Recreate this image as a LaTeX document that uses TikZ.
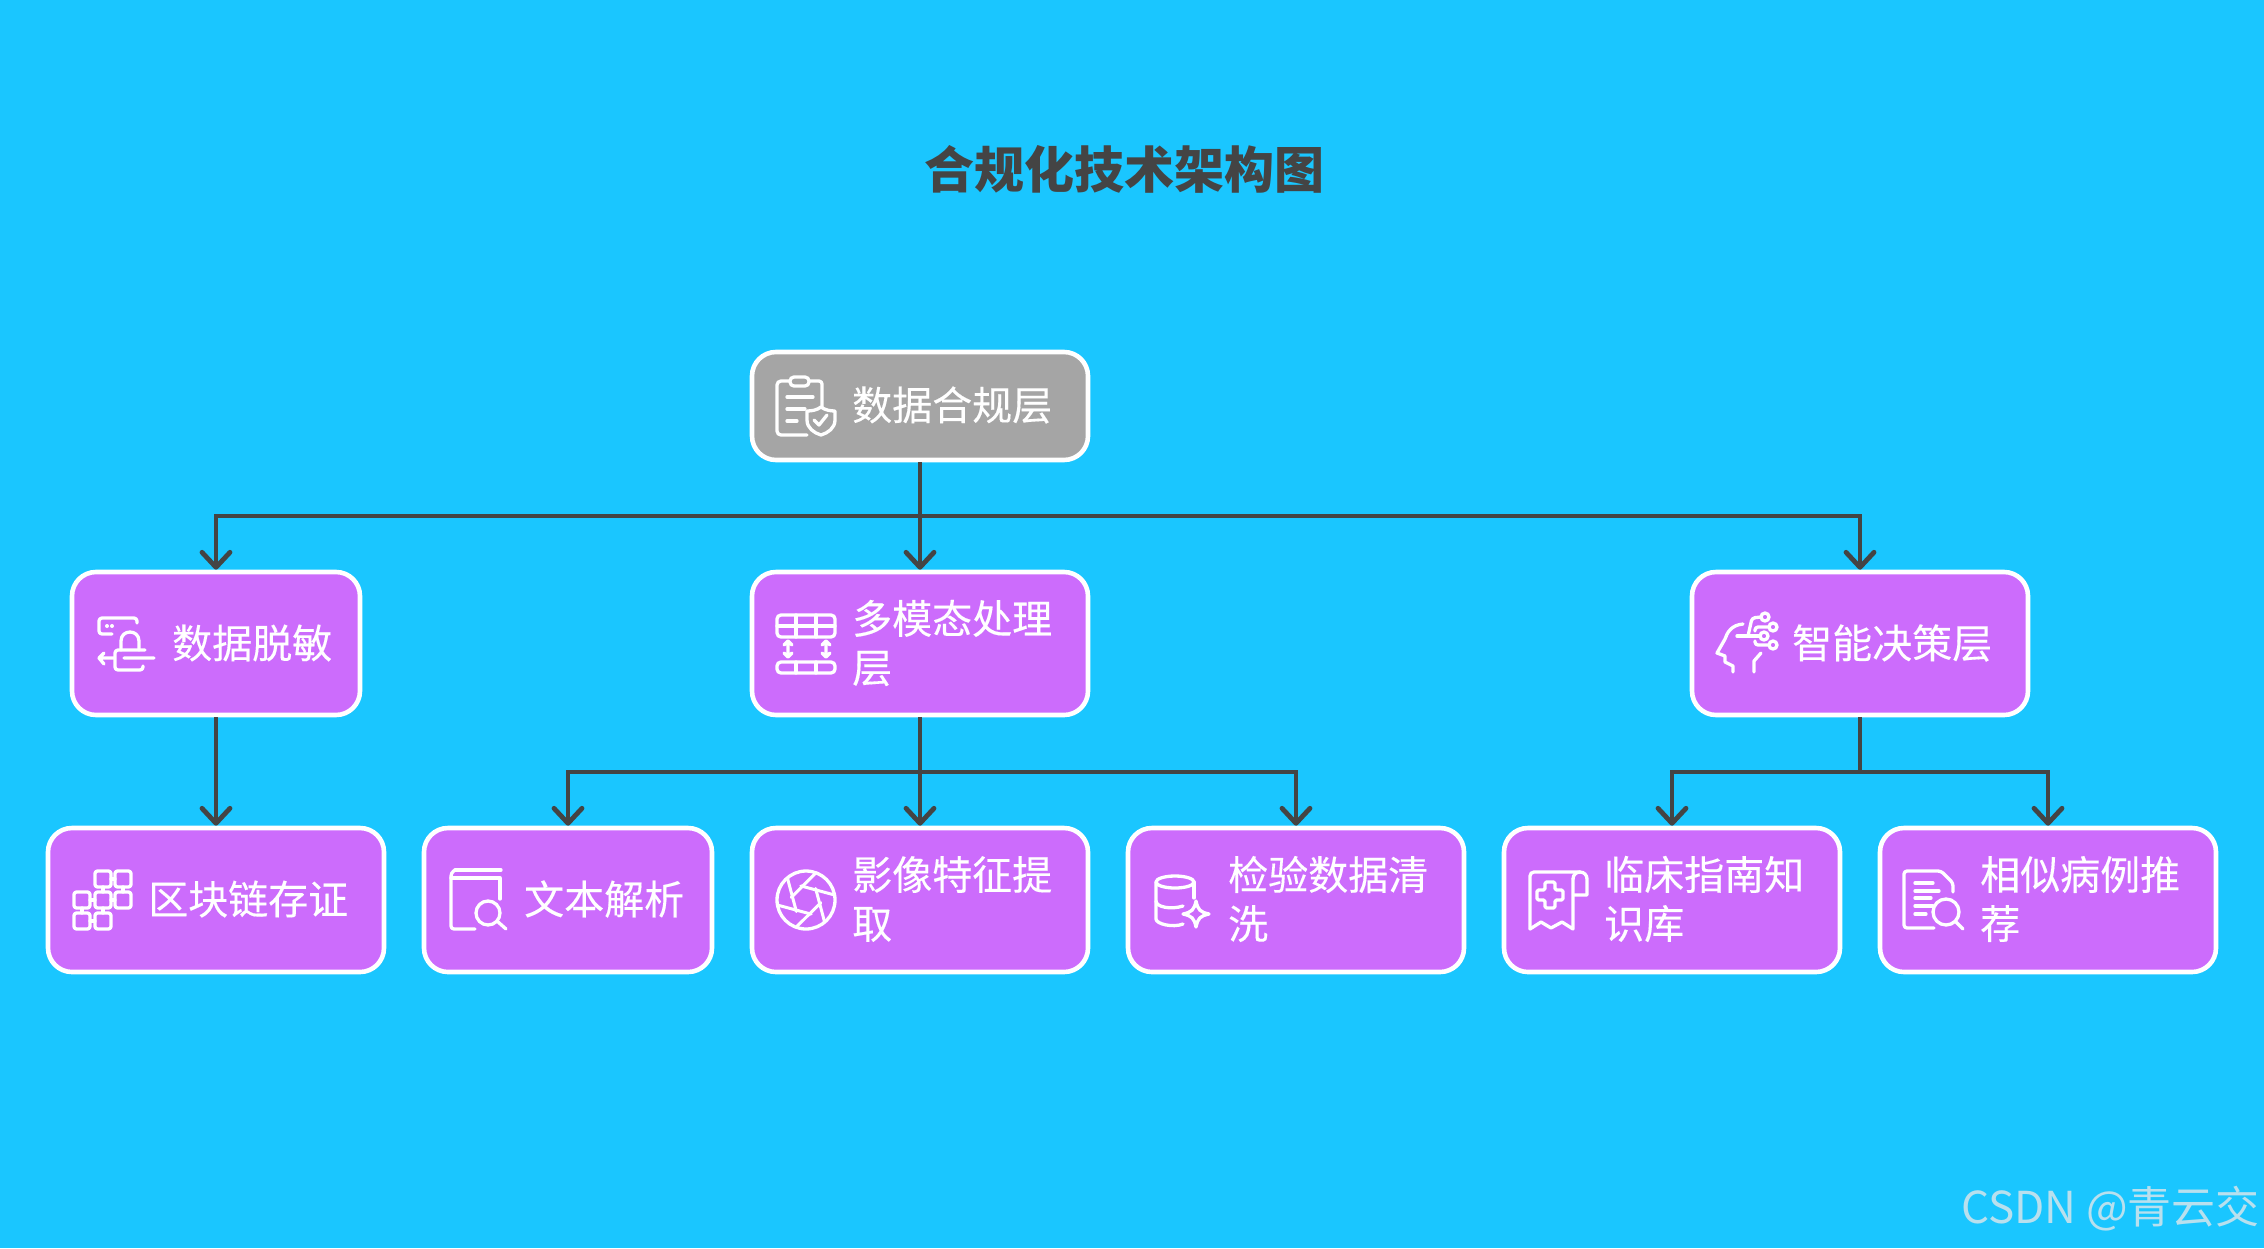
\documentclass[tikz,border=0pt]{standalone}
\usepackage{fontspec}
\setmainfont{Noto Sans CJK SC}
\newfontfamily\lblfont[FakeBold=0.25]{Noto Sans CJK SC}
\usetikzlibrary{arrows.meta}
\definecolor{bgc}{HTML}{1AC6FF}
\definecolor{purp}{HTML}{CC6CFC}
\definecolor{grayb}{HTML}{A5A5A5}
\definecolor{darkc}{HTML}{444444}
\definecolor{wmark}{HTML}{B8E0EE}
\tikzset{
  boxbase/.style={draw=white,line width=4.6pt,rounded corners=24pt,inner sep=0pt},
  purplebox/.style={boxbase,fill=purp},
  graybox/.style={boxbase,fill=grayb},
  lbl/.style={anchor=west,inner sep=0pt,text=white,align=left,font=\lblfont\fontsize{40}{49}\selectfont},
  conn/.style={draw=darkc,line width=4.8pt,-{Straight Barb[length=15pt,width=28pt,round,line width=4.8pt]}},
  icon/.style={draw=white,line width=3.3pt,line cap=round,line join=round},
}
\begin{document}
\begin{tikzpicture}[x=1pt,y=-1pt]
\fill[bgc] (0,0) rectangle (2264,1248);
\useasboundingbox (0,0) rectangle (2264,1248);

\node[inner sep=0pt,text=darkc,font=\fontsize{50}{60}\selectfont\bfseries] (title) at (1124,169) {合规化技术架构图};

% boxes
\node[graybox,minimum width=336pt,minimum height=108pt] (root) at (920,406) {};
\node[purplebox,minimum width=288pt,minimum height=143pt] (mask) at (216,643.5) {};
\node[purplebox,minimum width=336pt,minimum height=143pt] (multi) at (920,643.5) {};
\node[purplebox,minimum width=336pt,minimum height=143pt] (decide) at (1860,643.5) {};
\node[purplebox,minimum width=336pt,minimum height=144pt] (chain) at (216,900) {};
\node[purplebox,minimum width=288pt,minimum height=144pt] (textp) at (568,900) {};
\node[purplebox,minimum width=336pt,minimum height=144pt] (image) at (920,900) {};
\node[purplebox,minimum width=336pt,minimum height=144pt] (lab) at (1296,900) {};
\node[purplebox,minimum width=336pt,minimum height=144pt] (guide) at (1672,900) {};
\node[purplebox,minimum width=336pt,minimum height=144pt] (similar) at (2048,900) {};

% labels
\node[lbl] (lroot) at (852,405) {数据合规层};
\node[lbl] (lmask) at (172,643) {数据脱敏};
\node[lbl] (lmulti) at (852,643) {多模态处理\\层};
\node[lbl] (ldecide) at (1792,643) {智能决策层};
\node[lbl] (lchain) at (148,899) {区块链存证};
\node[lbl] (ltextp) at (524,899) {文本解析};
\node[lbl] (limage) at (852,899) {影像特征提\\取};
\node[lbl] (llab) at (1228,899) {检验数据清\\洗};
\node[lbl] (lguide) at (1604,899) {临床指南知\\识库};
\node[lbl] (lsimilar) at (1980,899) {相似病例推\\荐};

% connectors
\coordinate (bus1) at (920,516);
\coordinate (bus2) at (920,772);
\coordinate (bus3) at (1860,772);
\draw[conn] (root.south) -- (root.south |- bus1) -| (mask.north);
\draw[conn] (root.south) -- (multi.north);
\draw[conn] (root.south) -- (root.south |- bus1) -| (decide.north);
\draw[conn] (mask.south) -- (chain.north);
\draw[conn] (multi.south) -- (multi.south |- bus2) -| (textp.north);
\draw[conn] (multi.south) -- (image.north);
\draw[conn] (multi.south) -- (multi.south |- bus2) -| (lab.north);
\draw[conn] (decide.south) -- (decide.south |- bus3) -| (guide.north);
\draw[conn] (decide.south) -- (decide.south |- bus3) -| (similar.north);

% icon: clipboard + shield
\begin{scope}[shift={(776,376)}]
\draw[icon,rounded corners=4pt] (14,5) -- (1,5) -- (1,59) -- (31,59);
\draw[icon,rounded corners=3pt] (33,5) -- (46,5) -- (46,31);
\draw[icon,rounded corners=4pt] (14,1) rectangle (33,10);
\draw[icon] (11,21) -- (37,21) (11,33) -- (29,33) (11,45) -- (21,45);
\draw[icon] (45,31) .. controls (49,34) and (54,35) .. (59,35) -- (59,44) .. controls (59,52) and (52,57) .. (45,59) .. controls (38,57) and (31,52) .. (31,44) -- (31,35) .. controls (36,35) and (41,34) .. (45,31) -- cycle;
\draw[icon] (38,44) -- (43,49) -- (51,39);
\end{scope}

% icon: lock mask
\begin{scope}[shift={(98,617)}]
\draw[icon,rounded corners=3pt] (39,6) -- (39,1) -- (1,1) -- (1,17) -- (14,17);
\fill[white] (9,9) circle (2pt) (14,9) circle (2pt);
\draw[icon] (23,33) -- (23,24) .. controls (23,12) and (41,12) .. (41,24) -- (41,33);
\draw[icon,rounded corners=3pt] (47,33) -- (17,33) -- (17,53) -- (45,53) -- (45,49);
\draw[icon] (26,41) -- (56,41) (1,41) -- (16,41) (6,36) -- (1,41) -- (6,47);
\end{scope}

% icon: block network
\begin{scope}[shift={(73,870)}]
\foreach \x/\y in {22/1,42/1,1/22,22/22,42/22,1/43,22/43}
  \draw[icon,rounded corners=2.5pt] (\x,\y) rectangle ++(16,16);
\draw[icon] (38,9) -- (42,9) (17,30) -- (22,30) (38,30) -- (42,30) (17,51) -- (22,51)
  (30,17) -- (30,22) (50,17) -- (50,22) (9,38) -- (9,43) (30,38) -- (30,43);
\end{scope}

% icon: table with arrows
\begin{scope}[shift={(776,614)}]
\draw[icon,rounded corners=4pt] (1,1) rectangle (59,23);
\draw[icon] (1,12) -- (59,12) (20,1) -- (20,23) (40,1) -- (40,23);
\draw[icon,rounded corners=4pt] (1,48) rectangle (59,59);
\draw[icon] (20,48) -- (20,59) (40,48) -- (40,59);
\draw[icon] (12,27) -- (12,43) (50,27) -- (50,43)
  (8,31) -- (12,27) -- (16,31) (8,39) -- (12,43) -- (16,39)
  (46,31) -- (50,27) -- (54,31) (46,39) -- (50,43) -- (54,39);
\end{scope}

% icon: aperture
\begin{scope}[shift={(776,870)}]
\draw[icon] (30,30) circle (29pt);
\foreach \a in {0,60,...,300}
  \draw[icon,line width=3pt] ([shift={(30,30)}]\a+10:29pt) -- ([shift={(30,30)}]\a+110:15pt);
\end{scope}

% icon: head with circuit
\begin{scope}[shift={(1716,613)}]
\draw[icon] (27,11) .. controls (15,12) and (11,20) .. (9,26) -- (1,40) -- (9,43) -- (9,49) -- (17,53) -- (17,59);
\draw[icon] (45,40) -- (38,48) -- (38,59);
\draw[icon] (49,4) circle (4pt) (57,14) circle (4pt) (48,23) circle (4pt) (57,32) circle (4pt);
\draw[icon] (21,23) -- (44,23);
\draw[icon,rounded corners=3pt] (32,23) -- (36,5) -- (45,4);
\draw[icon,rounded corners=3pt] (39,18) -- (39,14) -- (53,14);
\draw[icon,rounded corners=3pt] (39,28) -- (39,32) -- (53,32);
\end{scope}

% icon: book + magnifier
\begin{scope}[shift={(450,869)}]
\draw[icon] (5,1) -- (51,1);
\draw[icon,rounded corners=3pt] (25,60) -- (1,60) -- (1,4) -- (5,1);
\draw[icon] (1,9) -- (50,9) -- (50,30);
\draw[icon] (38,44) circle (12pt);
\draw[icon] (47,52) -- (56,60);
\end{scope}

% icon: database + star
\begin{scope}[shift={(1155,875)}]
\draw[icon] (20,7) ellipse [x radius=19pt,y radius=6pt];
\draw[icon] (1,7) -- (1,44) .. controls (1,49) and (18,53) .. (28,49);
\draw[icon] (39,7) -- (39,23);
\draw[icon] (1,26) .. controls (1,32) and (16,35) .. (28,31);
\draw[icon] (41,26) .. controls (43,35) and (45,37) .. (54,39) .. controls (45,41) and (43,43) .. (41,52) .. controls (39,43) and (37,41) .. (28,39) .. controls (37,37) and (39,35) .. (41,26) -- cycle;
\end{scope}

% icon: medical scroll
\begin{scope}[shift={(1529,871)}]
\draw[icon] (44,8) .. controls (44,4) and (47,1) .. (51,1) .. controls (55,1) and (58,4) .. (58,8) -- (58,24) -- (45,24);
\draw[icon,rounded corners=4pt] (51,1) -- (1,1) -- (1,58);
\draw[icon] (1,58) -- (12,51) -- (22,57) -- (33,51) -- (44,58) -- (44,8);
\draw[icon,rounded corners=1.5pt] (16,11) -- (26,11) -- (26,19) -- (34,19) -- (34,29) -- (26,29) -- (26,37) -- (16,37) -- (16,29) -- (8,29) -- (8,19) -- (16,19) -- cycle;
\end{scope}

% icon: document + magnifier
\begin{scope}[shift={(1903,870)}]
\draw[icon,rounded corners=3pt] (50,22) -- (50,13) -- (38,1) -- (1,1) -- (1,58) -- (31,58);
\draw[icon] (12,13) -- (30,13) (12,21) -- (36,21) (12,28) -- (28,28) (12,36) -- (30,36) (12,44) -- (23,44);
\draw[icon] (43,42) circle (13pt);
\draw[icon] (53,52) -- (60,59);
\end{scope}

\node[anchor=base east,inner sep=0pt,text=wmark,font=\fontsize{44}{50}\selectfont] (wm) at (2260,1223) {CSDN @青云交};
\end{tikzpicture}
\end{document}
